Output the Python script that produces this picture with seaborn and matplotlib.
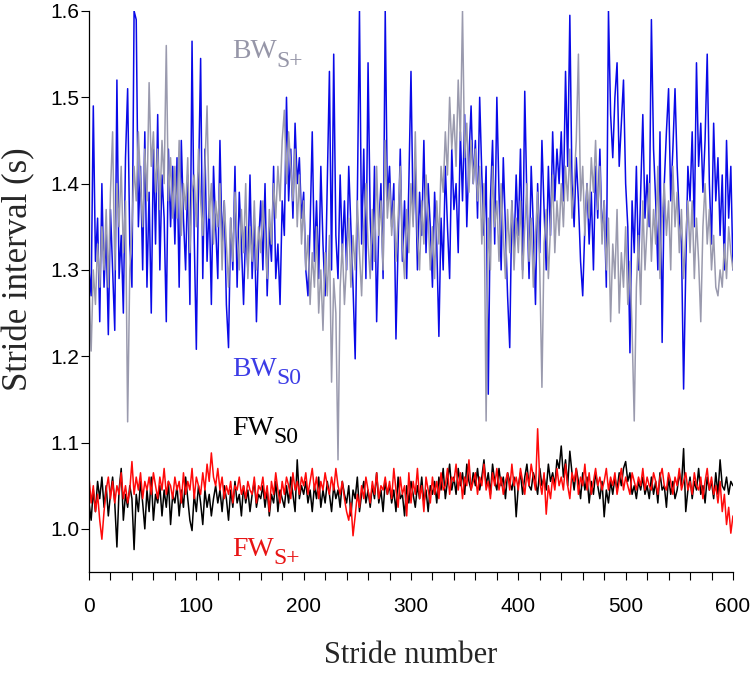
import numpy as np
import pandas as pd
import seaborn as sns
import matplotlib.pyplot as plt
from matplotlib.ticker import MultipleLocator, FormatStrFormatter

# stride intervals (ms), every 2nd stride, 0..600
strides = np.arange(0, 601, 2)

bw_s0_ms = [
    1300, 1270, 1490, 1310, 1360, 1240, 1400, 1280, 1345, 1225, 1370, 1300, 1230, 1520, 1290, 1340, 1250, 1430, 1510, 1330,
    1280, 1600, 1590, 1350, 1420, 1300, 1460, 1280, 1390, 1250, 1440, 1330, 1480, 1300, 1410, 1360, 1240, 1440, 1350, 1420,
    1330, 1430, 1280, 1450, 1360, 1300, 1410, 1260, 1565, 1340, 1208, 1400, 1545, 1290, 1440, 1310, 1380, 1260, 1420, 1350,
    1290, 1450, 1330, 1380, 1260, 1210, 1360, 1300, 1420, 1280, 1390, 1330, 1260, 1350, 1300, 1410, 1290, 1360, 1240, 1330,
    1380, 1300, 1400, 1270, 1350, 1310, 1420, 1290, 1330, 1260, 1380, 1340, 1500, 1380, 1440, 1360, 1470, 1400, 1430, 1360,
    1390, 1300, 1270, 1350, 1460, 1310, 1380, 1290, 1420, 1330, 1270, 1400, 1530, 1300, 1550, 1340, 1290, 1410, 1320, 1380,
    1300, 1420, 1350, 1280, 1197, 1380, 1600, 1330, 1440, 1290, 1540, 1360, 1300, 1420, 1240, 1350, 1400, 1290, 1600, 1380,
    1420, 1350, 1400, 1220, 1330, 1440, 1310, 1380, 1290, 1400, 1530, 1360, 1420, 1300, 1390, 1340, 1450, 1320, 1400, 1350,
    1280, 1390, 1330, 1223, 1360, 1300, 1420, 1350, 1290, 1440, 1370, 1400, 1320, 1460, 1380, 1480, 1350, 1430, 1490, 1400,
    1450, 1360, 1500, 1410, 1340, 1420, 1156, 1380, 1450, 1330, 1500, 1390, 1300, 1430, 1350, 1270, 1210, 1380, 1320, 1410,
    1340, 1440, 1300, 1507, 1380, 1290, 1420, 1350, 1260, 1400, 1320, 1450, 1370, 1300, 1420, 1340, 1460, 1380, 1440, 1400,
    1460, 1380, 1530, 1420, 1595, 1400, 1350, 1430, 1380, 1310, 1270, 1350, 1400, 1330, 1390, 1300, 1420, 1360, 1440, 1340,
    1380, 1280, 1600, 1480, 1430, 1500, 1540, 1420, 1470, 1520, 1400, 1350, 1204, 1380, 1320, 1420, 1300, 1390, 1480, 1360,
    1410, 1350, 1590, 1440, 1380, 1300, 1460, 1216, 1400, 1460, 1510, 1380, 1440, 1510, 1420, 1360, 1330, 1162, 1300, 1420,
    1380, 1460, 1350, 1540, 1420, 1470, 1390, 1450, 1550, 1400, 1330, 1470, 1380, 1430, 1340, 1410, 1300, 1450, 1360, 1420,
    1300,
]

bw_sp_ms = [
    1280, 1206, 1300, 1260, 1330, 1280, 1350, 1300, 1370, 1280, 1390, 1460, 1300, 1400, 1350, 1420, 1320, 1380, 1124, 1300,
    1350, 1420, 1380, 1460, 1400, 1350, 1440, 1380, 1517, 1420, 1460, 1390, 1440, 1370, 1450, 1400, 1560, 1380, 1430, 1360,
    1420, 1360, 1450, 1340, 1400, 1370, 1430, 1320, 1390, 1410, 1350, 1440, 1380, 1340, 1420, 1490, 1360, 1400, 1330, 1380,
    1350, 1400, 1300, 1380, 1330, 1280, 1360, 1310, 1390, 1340, 1300, 1370, 1320, 1400, 1290, 1350, 1310, 1380, 1300, 1350,
    1320, 1380, 1340, 1290, 1370, 1330, 1400, 1360, 1420, 1380, 1450, 1485, 1400, 1460, 1420, 1380, 1440, 1350, 1410, 1330,
    1380, 1300, 1340, 1260, 1320, 1280, 1350, 1250, 1300, 1230, 1320, 1270, 1340, 1170, 1290, 1250, 1080, 1280, 1330, 1260,
    1310, 1360, 1280, 1340, 1300, 1380, 1320, 1270, 1350, 1400, 1330, 1290, 1370, 1310, 1420, 1340, 1380, 1300, 1450, 1360,
    1400, 1340, 1380, 1310, 1360, 1420, 1330, 1290, 1370, 1320, 1400, 1350, 1460, 1340, 1300, 1380, 1330, 1410, 1360, 1300,
    1350, 1290, 1380, 1330, 1420, 1390, 1460, 1410, 1500, 1440, 1480, 1420, 1520, 1450, 1600, 1430, 1470, 1390, 1450, 1400,
    1440, 1380, 1420, 1330, 1400, 1125, 1360, 1300, 1420, 1350, 1380, 1310, 1400, 1340, 1290, 1370, 1320, 1380, 1300, 1360,
    1320, 1380, 1290, 1350, 1400, 1310, 1360, 1280, 1340, 1390, 1300, 1164, 1330, 1370, 1290, 1350, 1410, 1320, 1380, 1340,
    1400, 1350, 1420, 1380, 1440, 1360, 1400, 1450, 1550, 1380, 1420, 1340, 1400, 1360, 1430, 1390, 1450, 1370, 1420, 1330,
    1380, 1300, 1360, 1240, 1330, 1290, 1370, 1250, 1320, 1280, 1350, 1260, 1310, 1230, 1125, 1280, 1340, 1260, 1380, 1300,
    1350, 1400, 1310, 1370, 1330, 1420, 1290, 1360, 1400, 1340, 1380, 1300, 1420, 1350, 1390, 1320, 1370, 1290, 1340, 1380,
    1320, 1380, 1290, 1360, 1310, 1240, 1350, 1400, 1330, 1370, 1300, 1340, 1280, 1270, 1300, 1280, 1330, 1290, 1350, 1320,
    1300,
]

fw_s0_ms = [
    1030, 1010, 1045, 1020, 1055, 1035, 1060, 1025, 1050, 1015, 1040, 1060, 1030, 979, 1045, 1070, 1010, 1040, 1025, 1050,
    1035, 976, 1040, 1020, 1055, 1030, 1000, 1045, 1020, 1060, 1010, 1040, 1030, 1050, 1015, 1045, 1025, 1055, 1005, 1040,
    1030, 1050, 1015, 1045, 1025, 1060, 1035, 1010, 998, 1040, 1020, 1050, 1030, 1005, 1045, 1025, 1040, 1015, 1035, 1050,
    1030, 1045, 1020, 1050, 1035, 1010, 1045, 1025, 1055, 1030, 1040, 1015, 1050, 1030, 1045, 1020, 1040, 1055, 1025, 1040,
    1035, 1050, 1025, 1045, 1015, 1040, 1030, 1055, 1020, 1045, 1035, 1025, 1050, 1030, 1060, 1040, 1020, 1080, 1035, 1050,
    1040, 1055, 1030, 1045, 1020, 1050, 1035, 1060, 1025, 1045, 1030, 1055, 1040, 1020, 1050, 1035, 1045, 1025, 1055, 1040,
    1030, 1050, 1015, 1045, 1035, 1060, 1020, 1040, 1055, 1030, 1045, 1025, 1050, 1035, 1065, 1030, 1045, 1020, 1055, 1040,
    1050, 1030, 1045, 1020, 1060, 1035, 1040, 1015, 1050, 1030, 1055, 1040, 1025, 1050, 1035, 1060, 1030, 1045, 1020, 1050,
    1040, 1055, 1030, 1060, 1045, 1070, 1035, 1055, 1075, 1045, 1060, 1040, 1070, 1050, 1065, 1040, 1075, 1055, 1045, 1065,
    1050, 1070, 1045, 1060, 1080, 1050, 1065, 1040, 1075, 1055, 1045, 1070, 1050, 1060, 1035, 1065, 1055, 1045, 1060, 1014,
    1050, 1065, 1040, 1060, 1075, 1050, 1045, 1065, 1055, 1040, 1070, 1050, 1060, 1045, 1075, 1055, 1065, 1050, 1080, 1070,
    1096, 1060, 1080, 1050, 1090, 1065, 1045, 1070, 1055, 1035, 1065, 1045, 1060, 1030, 1055, 1040, 1065, 1050, 1035, 1055,
    1014, 1045, 1030, 1055, 1040, 1060, 1045, 1065, 1050, 1070, 1078, 1055, 1065, 1040, 1050, 1035, 1055, 1045, 1060, 1040,
    1050, 1035, 1060, 1040, 1055, 1030, 1065, 1045, 1050, 1025, 1060, 1040, 1055, 1035, 1045, 1065, 1050, 1093, 1020, 1045,
    1060, 1035, 1055, 1045, 1070, 1040, 1050, 1030, 1060, 1045, 1055, 1035, 1065, 1040, 1080, 1050, 1045, 1060, 1040, 1055,
    1050,
]

fw_sp_ms = [
    1060, 1030, 1050, 1020, 1040, 1010, 988, 1020, 1045, 1060, 1035, 1055, 1030, 1050, 1040, 1065, 1035, 1050, 1030, 1045,
    1078, 1040, 1060, 1045, 1065, 1035, 1055, 1045, 1060, 1040, 1065, 1050, 1035, 1060, 1045, 1070, 1040, 1055, 1050, 1035,
    1060, 1045, 1055, 1030, 1065, 1040, 1055, 1045, 1070, 1035, 1060, 1050, 1040, 1065, 1045, 1075, 1055, 1088, 1060, 1050,
    1070, 1045, 1060, 1035, 1050, 1040, 1055, 1030, 1050, 1045, 1060, 1040, 1050, 1035, 1055, 1045, 1040, 1060, 1030, 1050,
    1045, 1060, 1035, 1050, 1020, 1055, 1040, 1065, 1045, 1030, 1055, 1040, 1060, 1050, 1035, 1065, 1045, 1055, 1040, 1060,
    1050, 1065, 1040, 1055, 1070, 1045, 1060, 1035, 1055, 1045, 1065, 1050, 1040, 1060, 1045, 1070, 1050, 1040, 1055, 1035,
    1020, 1010, 1030, 992, 1015, 1040, 1025, 1050, 1035, 1060, 1045, 1030, 1055, 1040, 1065, 1035, 1050, 1045, 1060, 1040,
    1055, 1035, 1070, 1045, 1025, 1060, 1040, 1050, 1015, 1065, 1030, 1055, 1040, 1070, 1035, 1050, 1020, 1060, 1045, 1030,
    1060, 1040, 1055, 1035, 1065, 1045, 1050, 1070, 1040, 1060, 1055, 1075, 1045, 1065, 1035, 1060, 1050, 1080, 1045, 1055,
    1065, 1040, 1060, 1050, 1075, 1045, 1055, 1035, 1065, 1050, 1070, 1045, 1060, 1040, 1055, 1065, 1045, 1075, 1050, 1060,
    1045, 1070, 1055, 1040, 1065, 1050, 1075, 1060, 1045, 1116, 1055, 1040, 1065, 1017, 1050, 1035, 1060, 1045, 1070, 1050,
    1060, 1045, 1075, 1050, 1035, 1065, 1055, 1070, 1040, 1060, 1050, 1075, 1045, 1065, 1040, 1055, 1070, 1050, 1060, 1045,
    1055, 1070, 1045, 1060, 1050, 1065, 1040, 1055, 1070, 1045, 1060, 1050, 1040, 1065, 1055, 1045, 1060, 1050, 1070, 1045,
    1060, 1050, 1045, 1065, 1055, 1040, 1060, 1070, 1050, 1045, 1065, 1055, 1040, 1060, 1050, 1070, 1045, 1055, 1065, 1045,
    1055, 1040, 1065, 1050, 1045, 1060, 1035, 1055, 1070, 1045, 1060, 1040, 1050, 1030, 1055, 1020, 1040, 1005, 1025, 995,
    1015,
]

# seconds
df = pd.DataFrame({
    'stride': strides,
    'BW_S0': np.array(bw_s0_ms) / 1000,
    'BW_S+': np.array(bw_sp_ms) / 1000,
    'FW_S0': np.array(fw_s0_ms) / 1000,
    'FW_S+': np.array(fw_sp_ms) / 1000,
})

sns.set_style('ticks')
plt.rcParams['font.family'] = ['Liberation Sans', 'DejaVu Sans']

fig = plt.figure(figsize=(7.53, 6.74), dpi=100)
ax = fig.add_axes([0.1182, 0.1513, 0.8552, 0.8324])

# blue first, grey over it; black under red
sns.lineplot(data=df, x='stride', y='BW_S0', color='#0a0ae8', lw=1.1, estimator=None, ax=ax)
sns.lineplot(data=df, x='stride', y='BW_S+', color='#9a9aae', lw=1.1, estimator=None, ax=ax)
sns.lineplot(data=df, x='stride', y='FW_S0', color='black', lw=1.1, estimator=None, ax=ax)
sns.lineplot(data=df, x='stride', y='FW_S+', color='#ff0a0a', lw=1.1, estimator=None, ax=ax)

ax.set_xlim(0, 600)
ax.set_ylim(0.95, 1.6)
ax.set_xticks(range(0, 601, 100))
ax.xaxis.set_minor_locator(MultipleLocator(20))
ax.set_yticks(np.arange(1.0, 1.61, 0.1))
ax.yaxis.set_major_formatter(FormatStrFormatter('%.1f'))
ax.tick_params(axis='both', which='both', direction='out', length=6, width=0.8, colors='black')
ax.tick_params(axis='x', which='major', pad=12, labelsize=15)
ax.tick_params(axis='y', which='major', pad=1, labelsize=15)
sns.despine(ax=ax)
for s in ['left', 'bottom']:
    ax.spines[s].set_linewidth(0.9)
    ax.spines[s].set_color('black')

ax.set_xlabel('Stride number', family='Liberation Serif', fontsize=22)
ax.set_ylabel('Stride interval (s)', family='Liberation Serif', fontsize=25)
ax.xaxis.set_label_coords(0.5, -0.123)
ax.yaxis.set_label_coords(-0.084, 0.54)


def add_label(x, y, main, sub, color):
    t = ax.text(x, y, main, color=color, fontsize=20, family='Liberation Serif', va='baseline')
    ax.annotate(sub, xy=(1, 0), xycoords=t, xytext=(0, -1.5), textcoords='offset points',
                color=color, fontsize=17, family='Liberation Serif', va='baseline')


add_label(133, 1.545, 'BW', 'S+', '#9696a8')
add_label(133, 1.177, 'BW', 'S0', '#3c3ce6')
add_label(133, 1.109, 'FW', 'S0', 'black')
add_label(133, 0.969, 'FW', 'S+', '#e81414')

fig.savefig('out.png', dpi=100)
